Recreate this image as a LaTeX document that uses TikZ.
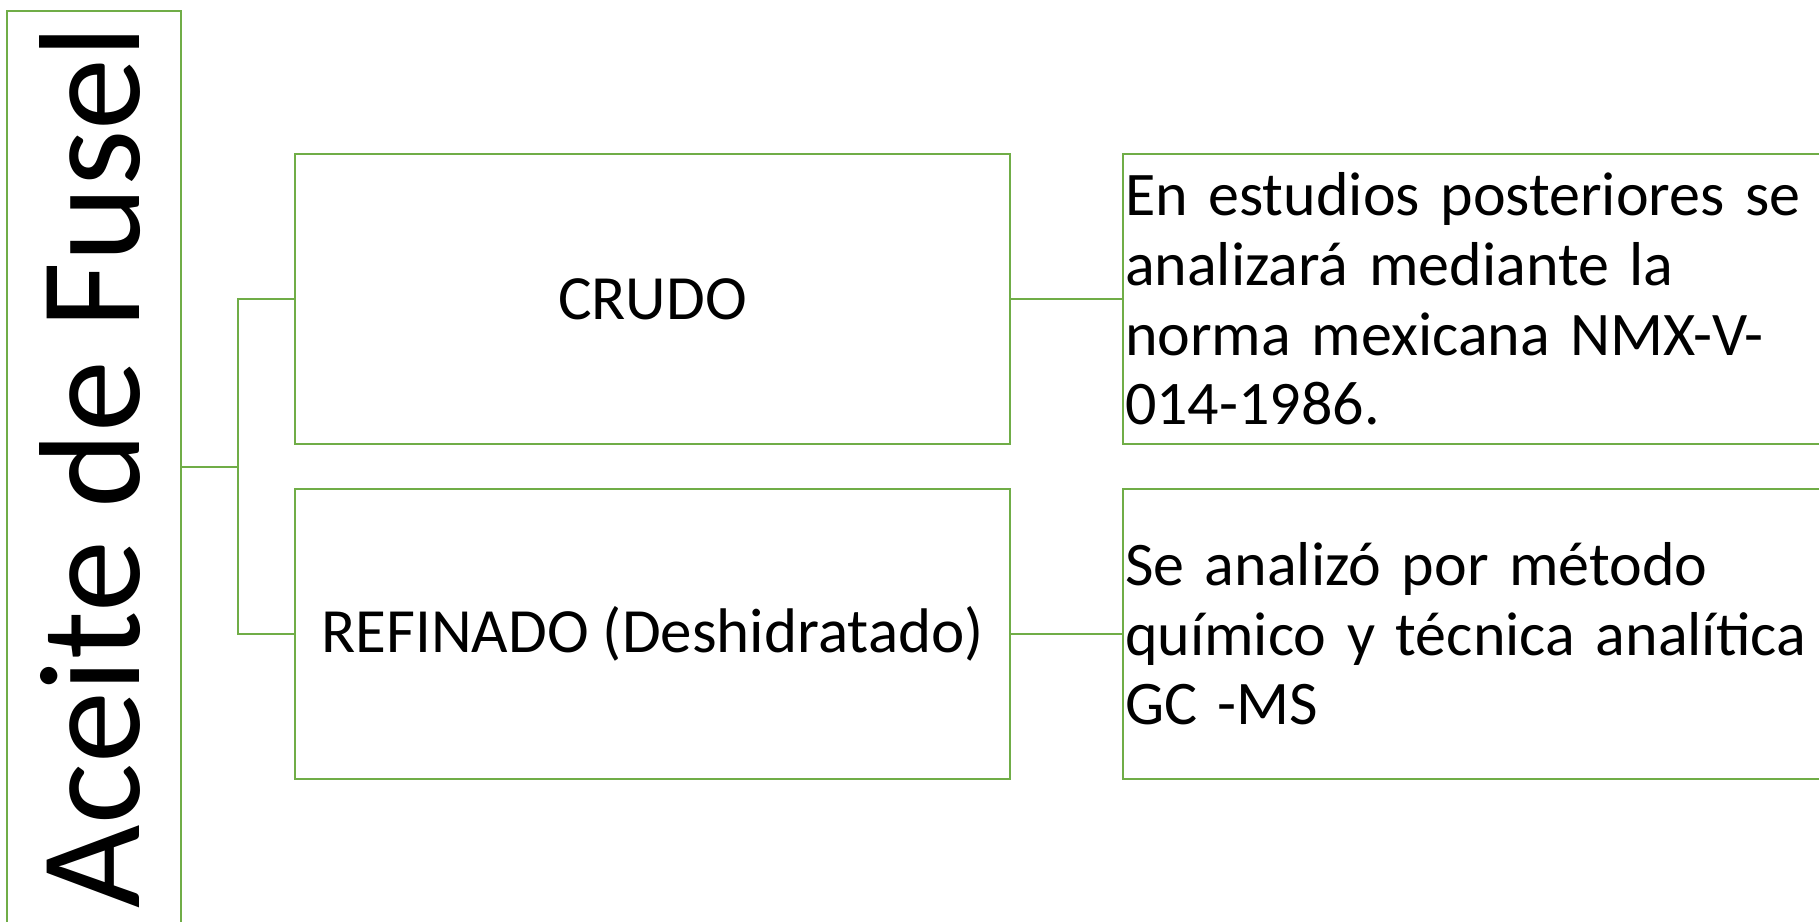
\documentclass[tikz,border=0pt]{standalone}
\usepackage{fontspec}
\setmainfont{Carlito}
\definecolor{boxgreen}{RGB}{112,173,71}

\begin{document}
\begin{tikzpicture}[x = 0.5pt, y = -0.5pt,
	box/.style = {draw = boxgreen, line width = 1.1pt, rectangle, inner sep = 0pt},
	midbox/.style = {box, minimum width = 357.5pt, minimum height = 145pt, font = \fontsize{31.5}{34.4}\selectfont},
	notebox/.style = {midbox, text width = 355.5pt, inner xsep = 1pt, align = left, font = \fontsize{31}{34.8}\selectfont},
	link/.style = {draw = boxgreen, line width = 1.1pt}]
	\useasboundingbox (0,0) rectangle (1819,921);
	\clip (0,0) rectangle (1819,921);

	\node[box, minimum width = 87pt, minimum height = 456pt] (fusel) at (94,467) {};
	\node[rotate = 90, anchor = base, inner sep = 0pt, font = \fontsize{72}{80}\selectfont] (fuseltext) at (139,467) {Aceite de Fusel};

	\node[midbox] (crudo) at (652.5,299) {CRUDO};
	\node[midbox] (refinado) at (652.5,634) {REFINADO (Deshidratado)};

	\node[notebox] (nota1) at (1480.5,299) {En estudios posteriores se\\analizará mediante la\\norma mexicana NMX-V-\\014-1986.};
	\node[notebox] (nota2) at (1480.5,634) {Se analizó por método\\químico y técnica analítica\\GC -MS};

	\coordinate (split) at (238,467);
	\draw[link] (fusel.east) -- (split) |- (crudo.west);
	\draw[link] (split) |- (refinado.west);
	\draw[link] (crudo.east) -- (nota1.west);
	\draw[link] (refinado.east) -- (nota2.west);
\end{tikzpicture}
\end{document}
